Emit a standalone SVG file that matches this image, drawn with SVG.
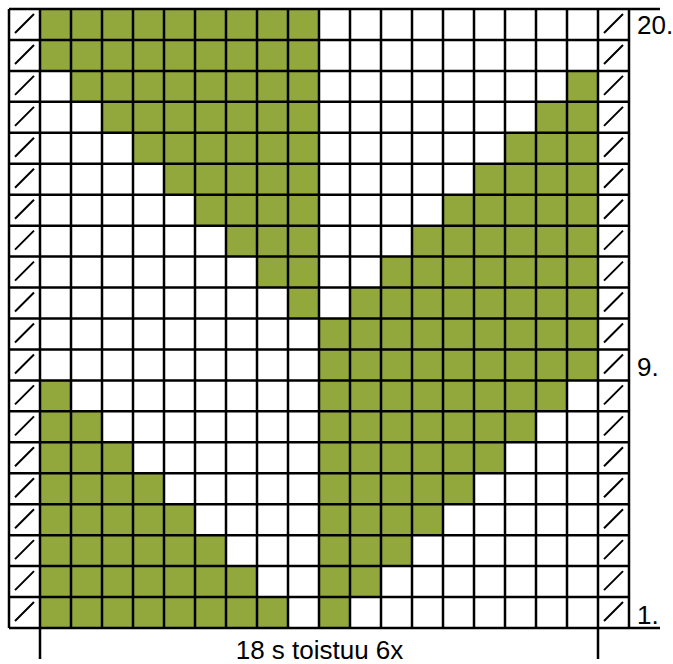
<svg xmlns="http://www.w3.org/2000/svg" width="673" height="664" viewBox="0 0 673 664">
<style>
.g{fill:#92A73C}
.ln{stroke:#000;stroke-width:2.5;fill:none}
.sl{stroke:#000;stroke-width:2;fill:none}
.t{font-family:"Liberation Sans",Arial,sans-serif;font-size:26px;fill:#000}
</style>
<rect x="0" y="0" width="673" height="664" fill="#fff"/>
<g id="fills">
<rect class="g" x="40" y="9" width="279" height="30.95"/>
<rect class="g" x="40" y="39.95" width="279" height="30.95"/>
<rect class="g" x="71" y="70.9" width="248" height="30.95"/><rect class="g" x="567" y="70.9" width="31" height="30.95"/>
<rect class="g" x="102" y="101.85" width="217" height="30.95"/><rect class="g" x="536" y="101.85" width="62" height="30.95"/>
<rect class="g" x="133" y="132.8" width="186" height="30.95"/><rect class="g" x="505" y="132.8" width="93" height="30.95"/>
<rect class="g" x="164" y="163.75" width="155" height="30.95"/><rect class="g" x="474" y="163.75" width="124" height="30.95"/>
<rect class="g" x="195" y="194.7" width="124" height="30.95"/><rect class="g" x="443" y="194.7" width="155" height="30.95"/>
<rect class="g" x="226" y="225.65" width="93" height="30.95"/><rect class="g" x="412" y="225.65" width="186" height="30.95"/>
<rect class="g" x="257" y="256.6" width="62" height="30.95"/><rect class="g" x="381" y="256.6" width="217" height="30.95"/>
<rect class="g" x="288" y="287.55" width="31" height="30.95"/><rect class="g" x="350" y="287.55" width="248" height="30.95"/>
<rect class="g" x="319" y="318.5" width="279" height="30.95"/>
<rect class="g" x="319" y="349.45" width="279" height="30.95"/>
<rect class="g" x="40" y="380.4" width="31" height="30.95"/><rect class="g" x="319" y="380.4" width="248" height="30.95"/>
<rect class="g" x="40" y="411.35" width="62" height="30.95"/><rect class="g" x="319" y="411.35" width="217" height="30.95"/>
<rect class="g" x="40" y="442.3" width="93" height="30.95"/><rect class="g" x="319" y="442.3" width="186" height="30.95"/>
<rect class="g" x="40" y="473.25" width="124" height="30.95"/><rect class="g" x="319" y="473.25" width="155" height="30.95"/>
<rect class="g" x="40" y="504.2" width="155" height="30.95"/><rect class="g" x="319" y="504.2" width="124" height="30.95"/>
<rect class="g" x="40" y="535.15" width="186" height="30.95"/><rect class="g" x="319" y="535.15" width="93" height="30.95"/>
<rect class="g" x="40" y="566.1" width="217" height="30.95"/><rect class="g" x="319" y="566.1" width="62" height="30.95"/>
<rect class="g" x="40" y="597.05" width="248" height="30.95"/><rect class="g" x="319" y="597.05" width="31" height="30.95"/>
</g>
<g id="slashes">
<path class="sl" d="M15,33l19,-19M15,63.95l19,-19M15,94.9l19,-19M15,125.85l19,-19M15,156.8l19,-19M15,187.75l19,-19M15,218.7l19,-19M15,249.65l19,-19M15,280.6l19,-19M15,311.55l19,-19M15,342.5l19,-19M15,373.45l19,-19M15,404.4l19,-19M15,435.35l19,-19M15,466.3l19,-19M15,497.25l19,-19M15,528.2l19,-19M15,559.15l19,-19M15,590.1l19,-19M15,621.05l19,-19"/>
<path class="sl" d="M604,33l19,-19M604,63.95l19,-19M604,94.9l19,-19M604,125.85l19,-19M604,156.8l19,-19M604,187.75l19,-19M604,218.7l19,-19M604,249.65l19,-19M604,280.6l19,-19M604,311.55l19,-19M604,342.5l19,-19M604,373.45l19,-19M604,404.4l19,-19M604,435.35l19,-19M604,466.3l19,-19M604,497.25l19,-19M604,528.2l19,-19M604,559.15l19,-19M604,590.1l19,-19M604,621.05l19,-19"/>
</g>
<g id="grid">
<path class="ln" d="M9,9V628M40,9V659M71,9V628M102,9V628M133,9V628M164,9V628M195,9V628M226,9V628M257,9V628M288,9V628M319,9V628M350,9V628M381,9V628M412,9V628M443,9V628M474,9V628M505,9V628M536,9V628M567,9V628M598,9V659M629,9V628"/>
<path class="ln" d="M9,9H660M9,39.95H629M9,70.9H629M9,101.85H629M9,132.8H629M9,163.75H629M9,194.7H629M9,225.65H629M9,256.6H629M9,287.55H629M9,318.5H629M9,349.45H629M9,380.4H629M9,411.35H629M9,442.3H629M9,473.25H629M9,504.2H629M9,535.15H629M9,566.1H629M9,597.05H629M9,628H660"/>
</g>
<g id="labels">
<text class="t" x="637" y="34">20.</text>
<text class="t" x="637" y="376">9.</text>
<text class="t" x="637" y="624">1.</text>
<text class="t" x="319.5" y="659" text-anchor="middle">18 s toistuu 6x</text>
</g>
</svg>
